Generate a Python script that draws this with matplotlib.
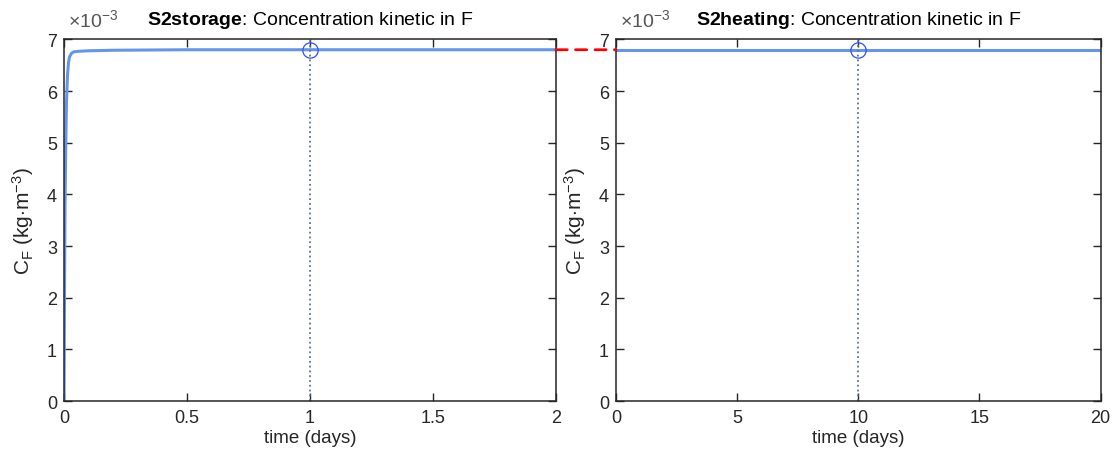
import matplotlib
matplotlib.use("Agg")
import math
import matplotlib.pyplot as plt
from matplotlib.patches import ConnectionPatch
from matplotlib.ticker import FuncFormatter

plt.rcParams['font.family'] = ['Liberation Sans', 'DejaVu Sans']
plt.rcParams['mathtext.fontset'] = 'custom'
plt.rcParams['mathtext.rm'] = 'Liberation Sans'
plt.rcParams['mathtext.it'] = 'Liberation Sans:italic'
plt.rcParams['mathtext.bf'] = 'Liberation Sans:bold'

# data (concentration in units of 1e-3 kg/m^3)
t_storage = [0, 0.002, 0.004, 0.007, 0.01, 0.014, 0.018, 0.022, 0.03, 0.04, 0.06, 0.1, 0.2, 0.5, 1.0, 1.5, 2.0]
c_storage = [0, 2.2, 3.8, 5.0, 5.8, 6.3, 6.55, 6.66, 6.73, 6.76, 6.77, 6.78, 6.79, 6.8, 6.8, 6.8, 6.8]
t_heating = [0, 5, 10, 15, 20]
c_heating = [6.8, 6.8, 6.8, 6.8, 6.8]
mark_storage = (1.0, 6.8)
mark_heating = (10.0, 6.8)
scale = 1e-3

line_color = '#6495ED'
dot_color = '#5b7490'
dark = '#262626'
exp = int(round(math.log10(scale)))

fig = plt.figure(figsize=(11.14, 4.52), dpi=100)
ax1 = fig.add_axes([0.0575, 0.1106, 0.4417, 0.80])
ax2 = fig.add_axes([0.553, 0.1106, 0.435, 0.80])

def style(ax, xlim, xticks):
    ax.set_xlim(*xlim)
    ax.set_ylim(0, 7 * scale)
    ax.set_xticks(xticks)
    ax.set_yticks([i * scale for i in range(8)])
    ax.yaxis.set_major_formatter(FuncFormatter(lambda v, p: f'{v / scale:g}'))
    ax.tick_params(direction='in', top=True, right=True, length=6, width=1,
                   labelsize=13, colors=dark)
    ax.tick_params(axis='x', pad=6)
    ax.tick_params(axis='y', pad=5)
    for s in ax.spines.values():
        s.set_color(dark)
        s.set_linewidth(1.1)
    ax.set_xlabel('time (days)', fontsize=13.5, color=dark, labelpad=2)
    ax.set_ylabel(r'C$_\mathrm{F}$ (kg$\cdot$m$^{-3}$)', fontsize=15, color=dark, labelpad=8)
    ax.text(0.008, 1.025, r'$\times10^{%d}$' % exp, transform=ax.transAxes,
            fontsize=14, color='#555555', ha='left', va='bottom')

ax1.plot(t_storage, [c * scale for c in c_storage], color=line_color, lw=2.2)
ax1.axvline(mark_storage[0], color=dot_color, ls=':', lw=1.3)
ax1.plot([mark_storage[0]], [mark_storage[1] * scale], 'o', mfc='none', mec='#3050ff', ms=11, mew=0.9)
style(ax1, (0, 2), [0, 0.5, 1, 1.5, 2])
ax1.set_xticklabels(['0', '0.5', '1', '1.5', '2'])
ax1.set_title(r'$\mathbf{S2storage}$: Concentration kinetic in F', fontsize=14, color='black', pad=11)

ax2.plot(t_heating, [c * scale for c in c_heating], color=line_color, lw=2.2)
ax2.axvline(mark_heating[0], color=dot_color, ls=':', lw=1.3)
ax2.plot([mark_heating[0]], [mark_heating[1] * scale], 'o', mfc='none', mec='#3050ff', ms=11, mew=0.9)
style(ax2, (0, 20), [0, 5, 10, 15, 20])
ax2.set_title(r'$\mathbf{S2heating}$: Concentration kinetic in F', fontsize=14, color='black', pad=11)

con = ConnectionPatch(xyA=(t_storage[-1], c_storage[-1] * scale), coordsA=ax1.transData,
                      xyB=(t_heating[0], c_heating[0] * scale), coordsB=ax2.transData,
                      color='red', ls=(0, (4, 3)), lw=2)
fig.add_artist(con)

fig.savefig('out.png', dpi=100)
